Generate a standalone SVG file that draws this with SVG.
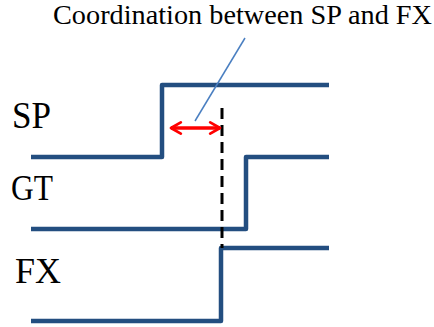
<svg xmlns="http://www.w3.org/2000/svg" width="434" height="327" viewBox="0 0 434 327">
<defs>
<style>
.sig{fill:none;stroke:#234e80;stroke-width:4.5;stroke-linejoin:round}
text{font-family:'Liberation Serif','Times New Roman',serif;fill:#000}
</style>
<marker id="ah" viewBox="0 0 10 10" refX="8.5" refY="5" markerWidth="4" markerHeight="4.5" orient="auto-start-reverse" markerUnits="strokeWidth">
<path d="M1.5,1 L8.5,5 L1.5,9" fill="none" stroke="#ff0000" stroke-width="2" stroke-linecap="round" stroke-linejoin="round"/>
</marker>
</defs>
<rect width="434" height="327" fill="#fff"/>
<text x="53" y="24" font-size="27" textLength="379" lengthAdjust="spacingAndGlyphs">Coordination  between SP and FX</text>
<g id="sp">
<text x="12" y="128" font-size="38" textLength="39" lengthAdjust="spacingAndGlyphs">SP</text>
<path class="sig" d="M31,157 H162 V85 H329"/>
</g>
<g id="gt">
<text x="11" y="200" font-size="36" textLength="42" lengthAdjust="spacingAndGlyphs">GT</text>
<path class="sig" d="M31,229 H246 V157 H329"/>
</g>
<g id="fx">
<text x="15" y="283" font-size="35" textLength="46" lengthAdjust="spacingAndGlyphs">FX</text>
<path class="sig" d="M31,321 H221 V248 H329"/>
</g>
<g id="connectors">
<line x1="222" y1="108" x2="222" y2="248" stroke="#000" stroke-width="3" stroke-dasharray="11,6"/>
<line x1="171" y1="128" x2="220" y2="128" stroke="#ff0000" stroke-width="3.5" marker-start="url(#ah)" marker-end="url(#ah)"/>
<line x1="245" y1="38" x2="195" y2="121" stroke="#4a7fc1" stroke-width="1.5"/>
</g>
</svg>
